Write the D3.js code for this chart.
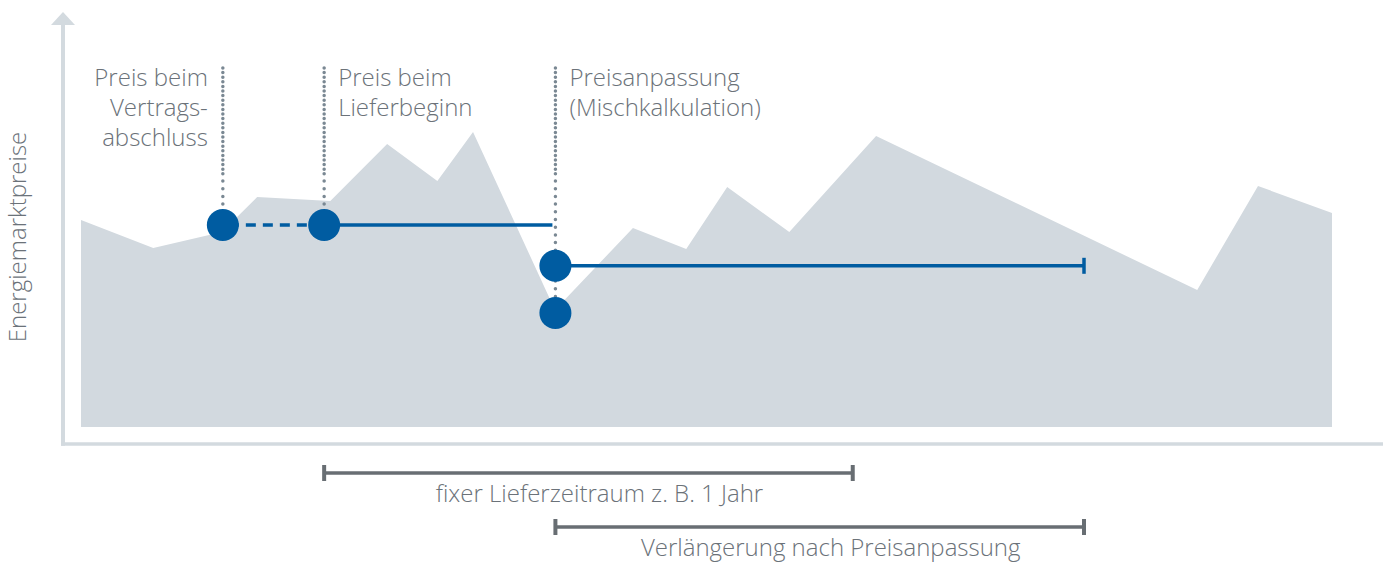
<!DOCTYPE html>
<html>
<head>
<meta charset="utf-8">
<script src="https://cdn.jsdelivr.net/npm/d3@7"></script>
<style>
  html, body { margin: 0; padding: 0; background: #fff; }
  svg text { font-family: "Open Sans", sans-serif; font-weight: 300; fill: #6b7279; }
</style>
</head>
<body>
<div id="chart"></div>
<script>
// Market price curve (x = months relative to delivery start, y = price index)
const marketMonths = [-5.52, -3.88, -2.32, -1.52, 0.14, 1.43, 2.57, 3.38, 5.24, 7.01, 8.22, 9.15, 10.56, 12.53, 19.82, 21.2, 22.88];
const marketPrices = [51.75, 44.75, 48.75, 57.5, 56.5, 70.75, 61.5, 73.75, 29.25, 49.75, 44.5, 60, 48.75, 72.75, 34.25, 60.25, 53.5];

// Key points
const contractMonth = -2.3;
const deliveryMonth = 0;
const adjustMonth = 5.25;
const fixedPrice = 50.5;
const blendedPrice = 40.3;
const spotAtAdjust = 28.5;
const periodLength = 12;

// Labels
const markerLabels = [
  { month: contractMonth, lines: ["Preis beim", "Vertrags-", "abschluss"], side: "left" },
  { month: deliveryMonth, lines: ["Preis beim", "Lieferbeginn"], side: "right" },
  { month: adjustMonth, lines: ["Preisanpassung", "(Mischkalkulation)"], side: "right" }
];
const yLabel = "Energiemarktpreise";
const periodLabels = ["fixer Lieferzeitraum z. B. 1 Jahr", "Verlängerung nach Preisanpassung"];

const W = 1389, H = 562;
const blue = "#005ca1", areaGray = "#d2d9df", axisGray = "#d3dadf", dotGray = "#7a8893", bracketGray = "#686e73";

const svg = d3.select("#chart").append("svg")
  .attr("width", W).attr("height", H);

const x = d3.scaleLinear().domain([-5.52, 22.88]).range([81, 1332]);
const y = d3.scaleLinear().domain([0, 100]).range([427, 27]);

const marketData = marketMonths.map((m, i) => ({ m, p: marketPrices[i] }));

// Area
const area = d3.area()
  .x(d => x(d.m))
  .y0(y(0))
  .y1(d => y(d.p));
svg.append("path")
  .datum(marketData)
  .attr("fill", areaGray)
  .attr("d", area);

// Axes with arrow
const axisX = 63, axisY = 444;
svg.append("line")
  .attr("x1", axisX).attr("x2", axisX)
  .attr("y1", 24).attr("y2", axisY + 1.75)
  .attr("stroke", axisGray).attr("stroke-width", 4);
svg.append("line")
  .attr("x1", axisX - 2).attr("x2", 1383)
  .attr("y1", axisY).attr("y2", axisY)
  .attr("stroke", axisGray).attr("stroke-width", 3.5);
svg.append("path")
  .attr("d", `M${axisX - 12},25 L${axisX + 12},25 L${axisX},12 Z`)
  .attr("fill", axisGray);

// Y label
svg.append("text")
  .attr("transform", `translate(26,237) rotate(-90)`)
  .attr("text-anchor", "middle")
  .style("font-size", "24px")
  .text(yLabel);

// Dotted vertical marker lines
const labelTop = 68, denseEnd = 176;
const markers = [
  { month: contractMonth, bottom: fixedPrice },
  { month: deliveryMonth, bottom: fixedPrice },
  { month: adjustMonth, bottom: spotAtAdjust }
];
markers.forEach(mk => {
  svg.append("line")
    .attr("x1", x(mk.month)).attr("x2", x(mk.month))
    .attr("y1", labelTop).attr("y2", denseEnd)
    .attr("stroke", dotGray).attr("stroke-width", 3.5)
    .attr("stroke-linecap", "round")
    .attr("stroke-dasharray", "0,4.6");
  svg.append("line")
    .attr("x1", x(mk.month)).attr("x2", x(mk.month))
    .attr("y1", denseEnd + 5).attr("y2", y(mk.bottom))
    .attr("stroke", dotGray).attr("stroke-width", 3.5)
    .attr("stroke-linecap", "round")
    .attr("stroke-dasharray", "0,7.7");
});

// Price lines
svg.append("line")
  .attr("x1", x(contractMonth)).attr("x2", x(deliveryMonth))
  .attr("y1", y(fixedPrice)).attr("y2", y(fixedPrice))
  .attr("stroke", blue).attr("stroke-width", 3.5)
  .attr("stroke-dasharray", "10,7")
  .attr("stroke-dashoffset", -6);
svg.append("line")
  .attr("x1", x(deliveryMonth)).attr("x2", x(adjustMonth) - 3)
  .attr("y1", y(fixedPrice)).attr("y2", y(fixedPrice))
  .attr("stroke", blue).attr("stroke-width", 3.5);
svg.append("line")
  .attr("x1", x(adjustMonth)).attr("x2", x(adjustMonth + periodLength))
  .attr("y1", y(blendedPrice)).attr("y2", y(blendedPrice))
  .attr("stroke", blue).attr("stroke-width", 3.5);
svg.append("line")
  .attr("x1", x(adjustMonth + periodLength)).attr("x2", x(adjustMonth + periodLength))
  .attr("y1", y(blendedPrice) - 8).attr("y2", y(blendedPrice) + 8)
  .attr("stroke", blue).attr("stroke-width", 3.5);

// Dots
const dots = [
  { m: contractMonth, p: fixedPrice },
  { m: deliveryMonth, p: fixedPrice },
  { m: adjustMonth, p: blendedPrice },
  { m: adjustMonth, p: spotAtAdjust }
];
svg.selectAll(".dot")
  .data(dots)
  .enter()
  .append("circle")
    .attr("class", "dot")
    .attr("cx", d => x(d.m))
    .attr("cy", d => y(d.p))
    .attr("r", 16)
    .attr("fill", blue);

// Marker labels
const lineHeight = 30;
markerLabels.forEach(lb => {
  const t = svg.append("text")
    .attr("text-anchor", lb.side === "left" ? "end" : "start")
    .style("font-size", "24px");
  lb.lines.forEach((ln, i) => {
    t.append("tspan")
      .attr("x", lb.side === "left" ? x(lb.month) - 15 : x(lb.month) + 14)
      .attr("y", 86 + i * lineHeight)
      .text(ln);
  });
});

// Period brackets
const brackets = [
  { from: deliveryMonth, to: deliveryMonth + periodLength, yPos: 473, textY: 502 },
  { from: adjustMonth, to: adjustMonth + periodLength, yPos: 527, textY: 556 }
];
brackets.forEach((b, i) => {
  const g = svg.append("g");
  g.append("line")
    .attr("x1", x(b.from)).attr("x2", x(b.to))
    .attr("y1", b.yPos).attr("y2", b.yPos)
    .attr("stroke", bracketGray).attr("stroke-width", 3.5);
  [b.from, b.to].forEach(v => {
    g.append("line")
      .attr("x1", x(v)).attr("x2", x(v))
      .attr("y1", b.yPos - 8).attr("y2", b.yPos + 8)
      .attr("stroke", bracketGray).attr("stroke-width", 4);
  });
  g.append("text")
    .attr("x", (x(b.from) + x(b.to)) / 2 + 11)
    .attr("y", b.textY)
    .attr("text-anchor", "middle")
    .style("font-size", "24px")
    .text(periodLabels[i]);
});
</script>
</body>
</html>
